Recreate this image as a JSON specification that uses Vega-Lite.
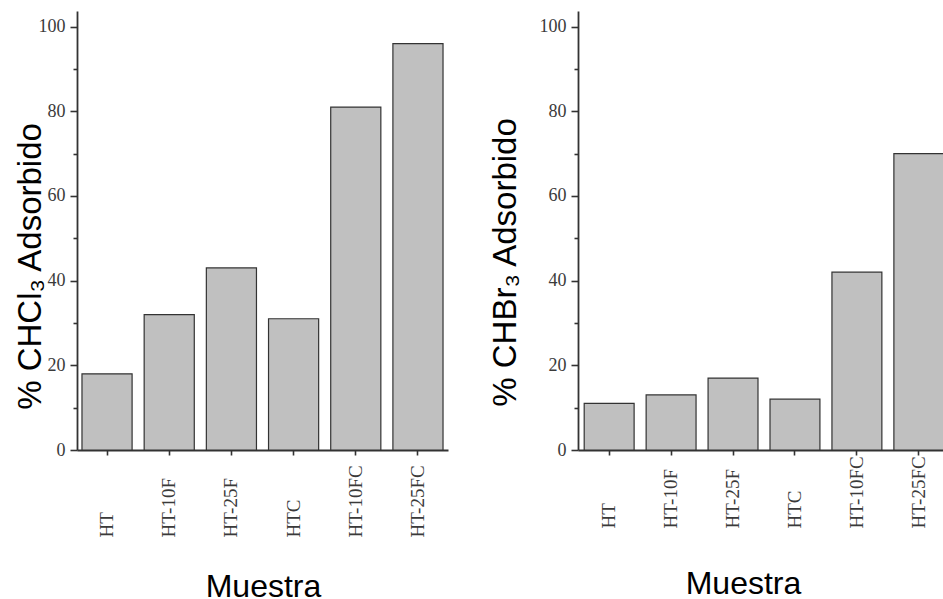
{
  "$schema": "https://vega.github.io/schema/vega-lite/v6.json",
  "background": "white",
  "padding": {"left": 13, "top": 11, "right": -7, "bottom": -5},
  "spacing": 130,
  "bounds": "flush",
  "config": {
    "view": {"stroke": null},
    "axis": {
      "domainColor": "#333333",
      "domainWidth": 1.8,
      "tickColor": "#333333",
      "tickWidth": 1.6,
      "grid": false,
      "labelFont": "Liberation Serif",
      "labelColor": "#3a3a3a",
      "titleFont": "Liberation Sans",
      "titleFontWeight": "normal",
      "titleColor": "#000000",
      "titleFontSize": 32
    }
  },
  "hconcat": [
    {
      "width": 371,
      "height": 439,
      "data": {"values": [
        {"Muestra": "HT", "pct": 18},
        {"Muestra": "HT-10F", "pct": 32},
        {"Muestra": "HT-25F", "pct": 43},
        {"Muestra": "HTC", "pct": 31},
        {"Muestra": "HT-10FC", "pct": 81},
        {"Muestra": "HT-25FC", "pct": 96}
      ]},
      "mark": {"type": "bar", "fill": "#c0c0c0", "stroke": "#333333", "strokeWidth": 1.2},
      "encoding": {
        "x": {
          "field": "Muestra", "type": "nominal", "sort": null,
          "scale": {"paddingInner": 0.194, "paddingOuter": 0.08},
          "axis": {
            "title": "Muestra",
            "labelAngle": 270, "labelAlign": "left", "labelBaseline": "middle",
            "labelFontSize": 19, "labelPadding": 82, "tickSize": 5,
            "titleX": 186, "titleY": 146.7, "titleBaseline": "alphabetic", "titleAlign": "center", "titleAngle": 0
          }
        },
        "y": {
          "field": "pct", "type": "quantitative",
          "scale": {"domain": [0, 103.7], "nice": false, "zero": true},
          "axis": {
            "title": "% CHCl₃ Adsorbido",
            "values": [0, 10, 20, 30, 40, 50, 60, 70, 80, 90, 100],
            "labelExpr": "datum.value % 20 === 0 ? datum.label : ''",
            "labelFontSize": 18, "labelPadding": 5,
            "tickSize": {"condition": {"test": "datum.value % 20 === 0", "value": 7}, "value": 4},
            "titleFontSize": 33, "titleAngle": 270, "titleBaseline": "alphabetic", "titleAlign": "center",
            "titleX": -37, "titleY": 255
          }
        }
      }
    },
    {
      "width": 372,
      "height": 439,
      "data": {"values": [
        {"Muestra": "HT", "pct": 11},
        {"Muestra": "HT-10F", "pct": 13},
        {"Muestra": "HT-25F", "pct": 17},
        {"Muestra": "HTC", "pct": 12},
        {"Muestra": "HT-10FC", "pct": 42},
        {"Muestra": "HT-25FC", "pct": 70}
      ]},
      "mark": {"type": "bar", "fill": "#c0c0c0", "stroke": "#333333", "strokeWidth": 1.2},
      "encoding": {
        "x": {
          "field": "Muestra", "type": "nominal", "sort": null,
          "scale": {"paddingInner": 0.194, "paddingOuter": 0.1},
          "axis": {
            "title": "Muestra",
            "labelAngle": 270, "labelAlign": "left", "labelBaseline": "middle",
            "labelFontSize": 19, "labelPadding": 73, "tickSize": 5,
            "titleX": 165, "titleY": 143, "titleBaseline": "alphabetic", "titleAlign": "center", "titleAngle": 0
          }
        },
        "y": {
          "field": "pct", "type": "quantitative",
          "scale": {"domain": [0, 103.7], "nice": false, "zero": true},
          "axis": {
            "title": "% CHBr₃ Adsorbido",
            "values": [0, 10, 20, 30, 40, 50, 60, 70, 80, 90, 100],
            "labelExpr": "datum.value % 20 === 0 ? datum.label : ''",
            "labelFontSize": 18, "labelPadding": 5,
            "tickSize": {"condition": {"test": "datum.value % 20 === 0", "value": 7}, "value": 4},
            "titleFontSize": 33, "titleAngle": 270, "titleBaseline": "alphabetic", "titleAlign": "center",
            "titleX": -63, "titleY": 251
          }
        }
      }
    }
  ]
}
